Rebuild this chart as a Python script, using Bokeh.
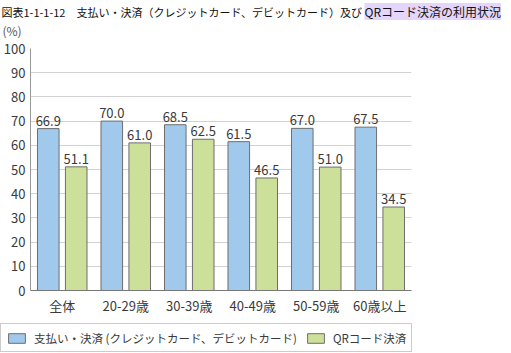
from bokeh.plotting import figure
from bokeh.layouts import column, row
from bokeh.models import ColumnDataSource, FactorRange, Label, FixedTicker
from bokeh.transform import dodge
from bokeh.core.properties import value
from bokeh.embed import file_html
from bokeh.resources import INLINE

categories = ["全体", "20-29歳", "30-39歳", "40-49歳", "50-59歳", "60歳以上"]
card_vals = [66.9, 70.0, 68.5, 61.5, 67.0, 67.5]
qr_vals = [51.1, 61.0, 62.5, 46.5, 51.0, 34.5]
series_names = ["支払い・決済 (クレジットカード、デビットカード)", "QRコード決済"]
y_ticks = [0, 10, 20, 30, 40, 50, 60, 70, 80, 90, 100]
title_main = "図表1-1-1-12　支払い・決済（クレジットカード、デビットカード）及び"
title_hl = "QRコード決済の利用状況"
unit_label = "(%)"

FONT = "Noto Sans CJK JP"
BLUE = "#a0c9ec"
GREEN = "#cde09a"
EDGE = "#6e6e6e"
TXT = "#3a3a3a"

W = 511


def bare(fig):
    fig.xaxis.visible = False
    fig.yaxis.visible = False
    fig.xgrid.visible = False
    fig.ygrid.visible = False
    fig.outline_line_color = None
    return fig


# ---- title strip ----
ft = bare(figure(width=W, height=38, x_range=(0, 1), y_range=(0, 1),
                 output_backend="svg", toolbar_location=None,
                 min_border=0))
ft.add_layout(Label(x=1, y=27, x_units="screen", y_units="screen", text=title_main,
                    text_font=FONT, text_font_size="11px", text_color="#111111",
                    text_baseline="middle"))
ft.add_layout(Label(x=364, y=27, x_units="screen", y_units="screen", text=title_hl,
                    text_font=FONT, text_font_size="12px", text_color="#111111",
                    text_baseline="middle", background_fill_color="#e4d6fa"))
ft.add_layout(Label(x=2, y=8, x_units="screen", y_units="screen", text=unit_label,
                    text_font=FONT, text_font_size="12px", text_color="#555555",
                    text_baseline="middle"))

# ---- main chart ----
source = ColumnDataSource(dict(
    cat=categories,
    card=card_vals,
    qr=qr_vals,
    card_lbl=[f"{v:.1f}" for v in card_vals],
    qr_lbl=[f"{v:.1f}" for v in qr_vals],
))

p = figure(width=W, height=285, x_range=FactorRange(*categories, range_padding=0),
           y_range=(0, 100), output_backend="svg", toolbar_location=None,
           min_border_left=27, min_border_right=100, min_border_top=10, min_border_bottom=33)
p.outline_line_color = None

p.vbar(x=dodge("cat", -0.22, range=p.x_range), top="card", width=0.34, source=source,
       fill_color=BLUE, line_color=EDGE, line_width=1)
p.vbar(x=dodge("cat", 0.22, range=p.x_range), top="qr", width=0.34, source=source,
       fill_color=GREEN, line_color=EDGE, line_width=1)

for off, col, lbl in [(-0.22, "card", "card_lbl"), (0.22, "qr", "qr_lbl")]:
    p.text(x=dodge("cat", off, range=p.x_range), y=col, text=lbl, source=source,
           text_align="center", text_baseline="bottom", y_offset=-3,
           text_font=value(FONT), text_font_size="13px", text_color=TXT)

p.yaxis.ticker = FixedTicker(ticks=y_ticks)
p.yaxis.major_tick_out = 0
p.yaxis.major_tick_in = 0
p.yaxis.minor_tick_out = 0
p.yaxis.minor_tick_in = 0
p.yaxis.major_label_standoff = 5
p.yaxis.axis_line_color = "#999999"
p.yaxis.major_label_text_font = FONT
p.yaxis.major_label_text_font_size = "13px"
p.yaxis.major_label_text_color = TXT

p.xaxis.major_tick_out = 0
p.xaxis.major_tick_in = 0
p.xaxis.major_label_standoff = 5
p.xaxis.axis_line_color = "#777777"
p.xaxis.major_label_text_font = FONT
p.xaxis.major_label_text_font_size = "13px"
p.xaxis.major_label_text_color = TXT

p.xgrid.grid_line_color = None
p.ygrid.grid_line_color = "#d2d2d2"
p.ygrid.ticker = FixedTicker(ticks=y_ticks)

# ---- legend strip (swatch renderers carry no visible bar) ----
fl = bare(figure(width=W, height=30, x_range=(0, 1), y_range=(0, 1),
                 output_backend="svg", toolbar_location=None, min_border=0))
nan = float("nan")
fl.vbar(x=[0.5], top=[nan], width=0.3, fill_color=BLUE, line_color=EDGE,
        legend_label=series_names[0])
fl.vbar(x=[0.5], top=[nan], width=0.3, fill_color=GREEN, line_color=EDGE,
        legend_label=series_names[1])
lg = fl.legend[0]
lg.orientation = "horizontal"
lg.location = "top_left"
lg.border_line_color = "#999999"
lg.border_line_width = 1
lg.padding = 5
lg.margin = 0
lg.spacing = 8
lg.glyph_width = 21
lg.glyph_height = 12
lg.label_standoff = 7
lg.label_text_font = FONT
lg.label_text_font_size = "11.5px"
lg.label_text_color = TXT
lg.label_height = 17

layout = column(row(ft), row(p), row(fl), spacing=0)
open("out.html", "w").write(file_html(layout, INLINE))
